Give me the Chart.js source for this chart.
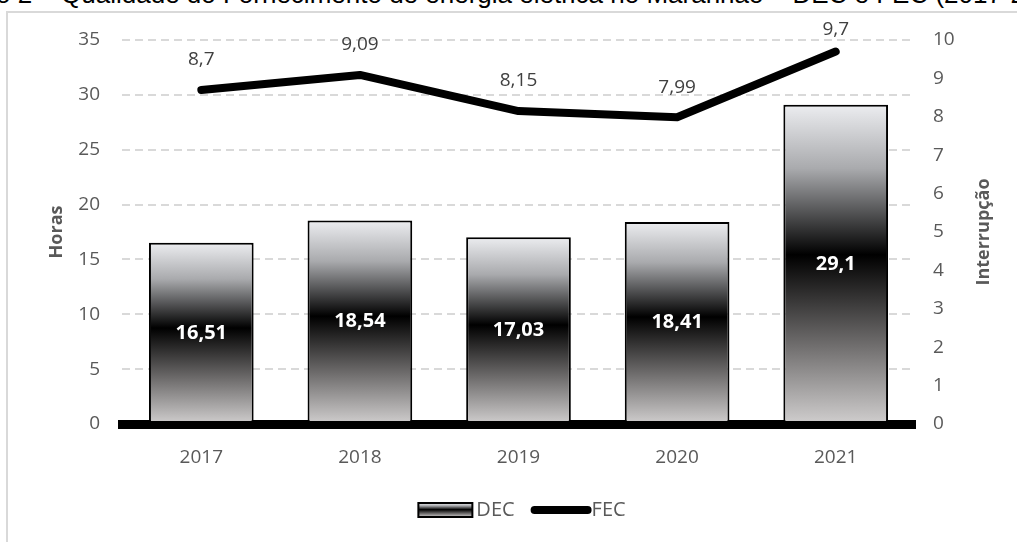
<!DOCTYPE html>
<html>
<head>
<meta charset="utf-8">
<script src="https://cdn.jsdelivr.net/npm/chart.js@4.4.1/dist/chart.umd.min.js"></script>
<style>
  html, body { margin: 0; padding: 0; background: #fff; overflow: hidden; }
  #wrap { position: relative; width: 1017px; height: 542px; overflow: hidden; }
  #title { position: absolute; left: -4px; top: -19px; font: 26px "Liberation Sans", Arial, sans-serif; line-height: 1; white-space: nowrap; color: #000; }
  #frame { position: absolute; left: 6px; top: 11px; width: 1100px; height: 600px; border-left: 2px solid #d9d9d9; border-top: 2px solid #d9d9d9; }
  #chart { position: absolute; left: 0; top: 0; }
</style>
</head>
<body>
<div id="wrap">
  <div id="title">o 2 – Qualidade do Fornecimento de energia elétrica no Maranhão – DEC e FEC (2017-2021)</div>
  <div id="frame"></div>
  <canvas id="chart" width="1017" height="542"></canvas>
</div>
<script>
const years = ["2017", "2018", "2019", "2020", "2021"];
const dec = [16.51, 18.54, 17.03, 18.41, 29.1];   // horas
const fec = [8.7, 9.09, 8.15, 7.99, 9.7];         // interrupções

const FONT = "'Open Sans', 'DejaVu Sans', sans-serif";
const GREY = "#595959";

function fmt(v) {
  return String(v).replace(".", ",");
}

function barGradient(c, top, bottom) {
  const g = c.createLinearGradient(0, top, 0, bottom);
  g.addColorStop(0, "#ecedf0");
  g.addColorStop(0.2, "#a9aaad");
  g.addColorStop(0.47, "#000000");
  g.addColorStop(0.75, "#6e6c6c");
  g.addColorStop(1, "#d0cece");
  return g;
}

// labels on bars and line points
const valueLabels = {
  id: "valueLabels",
  afterDatasetsDraw(chart) {
    const c = chart.ctx;
    c.save();
    c.textAlign = "center";
    c.textBaseline = "middle";

    chart.getDatasetMeta(1).data.forEach((bar, i) => {
      c.font = "bold 20px " + FONT;
      c.fillStyle = "#ffffff";
      c.fillText(fmt(dec[i]), bar.x, (bar.y + bar.base) / 2);
    });

    chart.getDatasetMeta(0).data.forEach((pt, i) => {
      c.font = "19px " + FONT;
      c.fillStyle = "#404040";
      c.fillText(fmt(fec[i]), pt.x, Math.max(pt.y - 30, 30));
    });
    c.restore();
  }
};

// right axis title (reads bottom to top) and the legend
const extras = {
  id: "extras",
  afterDraw(chart) {
    const c = chart.ctx;
    const area = chart.chartArea;
    c.save();

    c.translate(984, (area.top + area.bottom) / 2);
    c.rotate(-Math.PI / 2);
    c.font = "bold 18px " + FONT;
    c.fillStyle = GREY;
    c.textAlign = "center";
    c.textBaseline = "middle";
    c.fillText("Interrupção", 0, 0);
    c.setTransform(1, 0, 0, 1, 0, 0);

    // legend
    c.font = "20px " + FONT;
    const wDec = c.measureText("DEC").width;
    const wFec = c.measureText("FEC").width;
    const total = 54 + 4 + wDec + 16 + 60 + 1 + wFec;
    let x = 522 - total / 2;
    const y = 510;

    c.fillStyle = barGradient(c, y - 7, y + 7);
    c.fillRect(x, y - 7, 54, 14);
    c.strokeStyle = "#000";
    c.lineWidth = 2;
    c.strokeRect(x, y - 7, 54, 14);
    x += 58;
    c.fillStyle = GREY;
    c.textBaseline = "middle";
    c.textAlign = "left";
    c.fillText("DEC", x, y);
    x += wDec + 16;

    c.beginPath();
    c.moveTo(x + 4, y);
    c.lineTo(x + 57, y);
    c.lineWidth = 8;
    c.lineCap = "round";
    c.strokeStyle = "#000";
    c.stroke();
    x += 61;
    c.fillText("FEC", x, y);

    c.restore();
  }
};

new Chart(document.getElementById("chart"), {
  data: {
    labels: years,
    datasets: [
      {
        type: "line",
        label: "FEC",
        data: fec,
        yAxisID: "y1",
        borderColor: "#000",
        borderWidth: 8,
        borderCapStyle: "round",
        borderJoinStyle: "round",
        pointRadius: 0,
        tension: 0,
        order: 0
      },
      {
        type: "bar",
        label: "DEC",
        data: dec,
        yAxisID: "y",
        borderColor: "#000",
        borderWidth: 2,
        borderSkipped: false,
        barPercentage: 0.66,
        categoryPercentage: 1,
        order: 1,
        backgroundColor: ctx => {
          const chart = ctx.chart;
          const y = chart.scales.y;
          if (!y || ctx.dataIndex === undefined) return "#808080";
          const top = y.getPixelForValue(dec[ctx.dataIndex]);
          const bottom = y.getPixelForValue(0);
          if (!isFinite(top) || !isFinite(bottom) || top === bottom) return "#808080";
          return barGradient(chart.ctx, top, bottom);
        }
      }
    ]
  },
  options: {
    responsive: false,
    animation: false,
    layout: { padding: { left: 43, top: 40, right: 0, bottom: 0 } },
    plugins: {
      legend: { display: false },
      tooltip: { enabled: false }
    },
    scales: {
      x: {
        z: 1,
        grid: { display: false, drawTicks: false },
        border: { display: true, color: "#000", width: 9 },
        ticks: { color: GREY, font: { family: FONT, size: 19 }, padding: 22 },
        afterFit: s => { s.height = 118; }
      },
      y: {
        position: "left",
        min: 0,
        max: 35,
        ticks: { stepSize: 5, color: GREY, font: { family: FONT, size: 19 }, padding: 22 },
        grid: { color: "#d9d9d9", lineWidth: 2, drawTicks: false },
        border: { display: false, dash: [8, 5] },
        title: { display: true, text: "Horas", color: GREY, font: { family: FONT, size: 18, weight: "bold" }, padding: 3 },
        afterFit: s => { s.width = 79; }
      },
      y1: {
        position: "right",
        min: 0,
        max: 10,
        ticks: { stepSize: 1, color: GREY, font: { family: FONT, size: 19 }, padding: 18 },
        grid: { display: false, drawTicks: false },
        border: { display: false },
        afterFit: s => { s.width = 102; }
      }
    }
  },
  plugins: [valueLabels, extras]
});
</script>
</body>
</html>
